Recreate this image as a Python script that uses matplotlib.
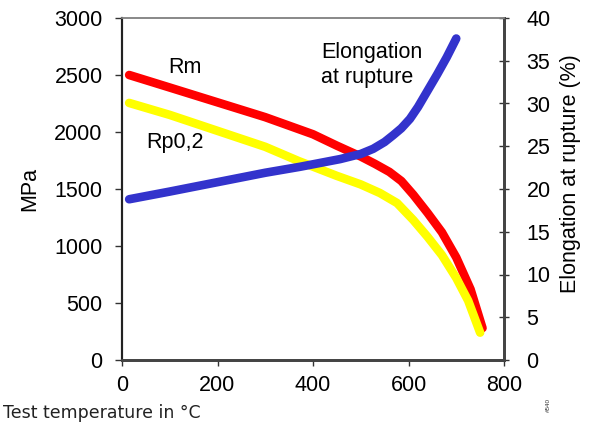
import matplotlib
matplotlib.use("Agg")
import matplotlib.pyplot as plt

plt.rcParams['font.family'] = ['Liberation Sans', 'DejaVu Sans']

# Data
rm_temp = [15, 100, 200, 300, 400, 450, 500, 530, 560, 585, 610, 640, 670, 700, 730, 755]
rm_mpa = [2500, 2390, 2260, 2130, 1980, 1880, 1785, 1720, 1650, 1570, 1450, 1290, 1120, 900, 620, 280]

rp_temp = [15, 100, 200, 300, 370, 450, 500, 540, 576, 610, 640, 670, 700, 725, 750]
rp_mpa = [2255, 2150, 2010, 1870, 1745, 1615, 1540, 1465, 1377, 1228, 1080, 920, 720, 520, 240]

el_temp = [15, 100, 200, 300, 373, 457, 500, 526, 550, 568, 585, 603, 620, 640, 660, 680, 700]
el_pct = [18.8, 19.7, 20.8, 21.9, 22.6, 23.5, 24.1, 24.7, 25.5, 26.3, 27.1, 28.2, 29.6, 31.5, 33.4, 35.4, 37.6]

x_ticks = [0, 200, 400, 600, 800]
y_ticks = [0, 500, 1000, 1500, 2000, 2500, 3000]
y2_ticks = [0, 5, 10, 15, 20, 25, 30, 35, 40]

fig = plt.figure(figsize=(5.92, 4.23), dpi=100)
ax = fig.add_axes([122/592, 1-360/423, (504-122)/592, (360-18)/423])
ax2 = ax.twinx()

lw = 6.2
ax.plot(rm_temp, rm_mpa, color='#ff0000', lw=lw, solid_capstyle='round',
        solid_joinstyle='round', zorder=2)
ax.plot(rp_temp, rp_mpa, color='#ffff00', lw=lw, solid_capstyle='round',
        solid_joinstyle='round', zorder=3)
ax2.plot(el_temp, el_pct, color='#3333cc', lw=lw, solid_capstyle='round',
         solid_joinstyle='round', zorder=4)

ax.set_xlim(0, 800)
ax.set_ylim(0, 3000)
ax2.set_ylim(0, 40)
ax.set_xticks(x_ticks)
ax.set_yticks(y_ticks)
ax2.set_yticks(y2_ticks)

fs = 15.5
ax.tick_params(axis='x', direction='out', length=4.5, width=1, labelsize=fs, pad=6, color='#333333')
ax.tick_params(axis='y', direction='out', length=5, width=1, labelsize=fs, pad=9, color='#333333')
ax2.tick_params(axis='y', direction='inout', length=7.5, width=1, labelsize=fs, pad=12.5, color='#333333')

for a in (ax, ax2):
    a.spines['top'].set_color('#888888')
    a.spines['top'].set_linewidth(1.2)
    a.spines['bottom'].set_color('#444444')
    a.spines['bottom'].set_linewidth(2)
    a.spines['left'].set_color('#222222')
    a.spines['left'].set_linewidth(1.5)
    a.spines['right'].set_color('#444444')
    a.spines['right'].set_linewidth(2)

ax.set_ylabel('MPa', fontsize=fs, labelpad=10)
ax2.set_ylabel('Elongation at rupture (%)', fontsize=fs, va='center')
ax2.yaxis.set_label_coords(1.175, 0.544)

ax.text(132, 2570, 'Rm', fontsize=fs, ha='center', va='center')
ax.text(111, 1912, 'Rp0,2', fontsize=fs, ha='center', va='center')
ax.text(417, 2588, 'Elongation\nat rupture', fontsize=fs, ha='left', va='center', linespacing=1.28)

fig.text(3/592, 1-413/423, 'Test temperature in \u00b0C', fontsize=12.5,
         family=['DejaVu Sans'], ha='left', va='center', color='#222222')
fig.text(548/592, 1-405/423, '#540', fontsize=4.5, rotation=90, ha='center', va='center', color='#333333')

fig.savefig('out.png', dpi=100)
